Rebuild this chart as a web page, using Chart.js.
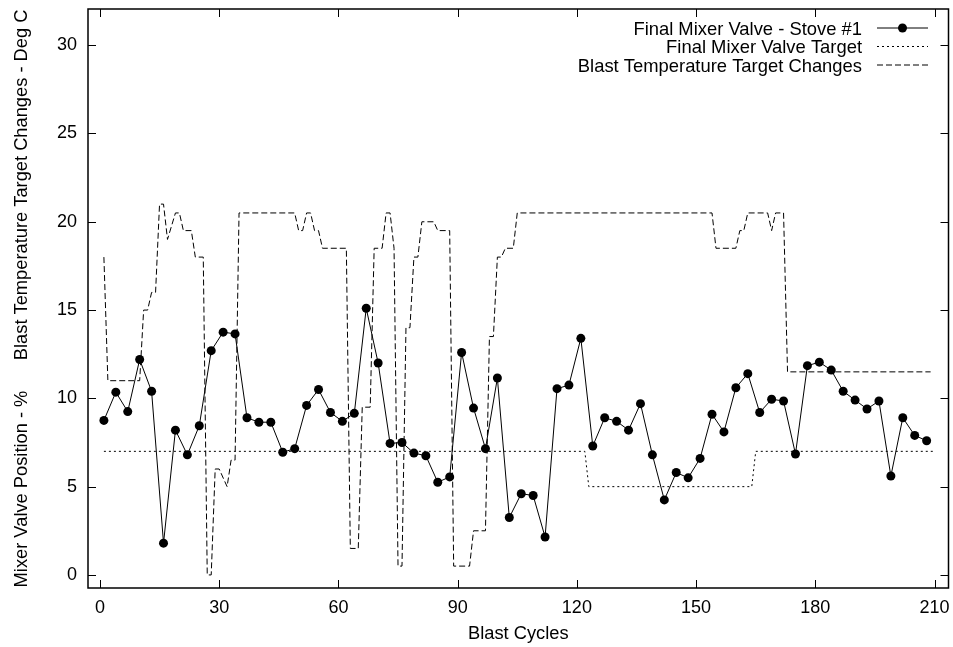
<!DOCTYPE html>
<html>
<head>
<meta charset="utf-8">
<script src="https://cdn.jsdelivr.net/npm/chart.js@4.4.1/dist/chart.umd.min.js"></script>
<style>
  html, body { margin: 0; padding: 0; background: #fff; }
  canvas { display: block; }
</style>
</head>
<body>
<canvas id="stoveChart" width="953" height="647"></canvas>
<script>
// Final mixer valve readings for stove #1 (one every third blast cycle)
const valveCycles = [1, 4, 7, 10, 13, 16, 19, 22, 25, 28, 31, 34, 37, 40, 43, 46, 49, 52, 55, 58,
  61, 64, 67, 70, 73, 76, 79, 82, 85, 88, 91, 94, 97, 100, 103, 106, 109, 112, 115, 118,
  121, 124, 127, 130, 133, 136, 139, 142, 145, 148, 151, 154, 157, 160, 163, 166, 169, 172, 175, 178,
  181, 184, 187, 190, 193, 196, 199, 202, 205, 208];
const valvePosition = [8.75, 10.35, 9.25, 12.2, 10.4, 1.8, 8.2, 6.8, 8.45, 12.7, 13.75, 13.65, 8.9, 8.65, 8.65, 6.95, 7.15, 9.6, 10.5, 9.2,
  8.7, 9.15, 15.1, 12.0, 7.45, 7.5, 6.9, 6.75, 5.25, 5.55, 12.6, 9.45, 7.15, 11.15, 3.25, 4.6, 4.5, 2.15, 10.55, 10.75,
  13.4, 7.3, 8.9, 8.7, 8.2, 9.7, 6.8, 4.25, 5.8, 5.5, 6.6, 9.1, 8.1, 10.6, 11.4, 9.2, 9.95, 9.85, 6.85, 11.85,
  12.05, 11.6, 10.4, 9.9, 9.4, 9.85, 5.6, 8.9, 7.9, 7.6];

// Final mixer valve target (steps)
const targetCycles = [1, 122, 123, 164, 165, 210];
const targetPosition = [7, 7, 5, 5, 7, 7];

// Blast temperature target changes (Deg C)
const tempCycles = [1, 2, 10, 11, 12, 13, 14, 15, 16, 17, 19, 20, 21, 23, 24, 26, 27, 28, 29, 30,
  32, 33, 34, 35, 49, 50, 51, 52, 53, 54, 55, 56, 62, 63, 65, 66, 68, 69, 71, 72,
  73, 74, 75, 76, 77, 78, 79, 80, 81, 84, 85, 88, 89, 93, 94, 97, 98, 99, 100, 101,
  102, 104, 105, 154, 155, 160, 161, 162, 163, 168, 169, 170, 172, 173, 209];
const tempChange = [18, 11, 11, 15, 15, 16, 16, 21, 21, 19, 20.5, 20.5, 19.5, 19.5, 18, 18, 0, 0, 6, 6,
  5, 6.5, 6.5, 20.5, 20.5, 19.5, 19.5, 20.5, 20.5, 19.5, 19.5, 18.5, 18.5, 1.5, 1.5, 9.5, 9.5, 18.5, 18.5, 20.5,
  20.5, 18.5, 0.5, 0.5, 14, 14, 18, 18, 20, 20, 19.5, 19.5, 0.5, 0.5, 2.5, 2.5, 13.5, 13.5, 18, 18,
  18.5, 18.5, 20.5, 20.5, 18.5, 18.5, 19.5, 19.5, 20.5, 20.5, 19.5, 20.5, 20.5, 11.5, 11.5];

const toPoints = (xs, ys) => xs.map((x, i) => ({ x: x, y: ys[i] }));

Chart.defaults.font.family = '"Liberation Sans", Arial, Helvetica, sans-serif';
Chart.defaults.font.size = 18;
Chart.defaults.color = '#000';

// gnuplot style frame, inward ticks on all sides, key at top right
const frameAndKey = {
  id: 'frameAndKey',
  afterDraw(chart) {
    const { ctx, chartArea: a, scales: { x, y } } = chart;
    ctx.save();
    ctx.strokeStyle = '#000';
    ctx.lineWidth = 1;
    ctx.setLineDash([]);
    ctx.beginPath();
    x.ticks.forEach(t => {
      const px = Math.round(x.getPixelForValue(t.value)) + 0.5;
      ctx.moveTo(px, a.bottom); ctx.lineTo(px, a.bottom - 8);
      ctx.moveTo(px, a.top); ctx.lineTo(px, a.top + 8);
    });
    y.ticks.forEach(t => {
      const py = Math.round(y.getPixelForValue(t.value)) + 0.5;
      ctx.moveTo(a.left, py); ctx.lineTo(a.left + 8, py);
      ctx.moveTo(a.right, py); ctx.lineTo(a.right - 8, py);
    });
    ctx.stroke();
    ctx.lineWidth = 1.5;
    ctx.strokeRect(a.left, a.top, a.right - a.left, a.bottom - a.top);

    // key
    ctx.font = '18.4px "Liberation Sans", Arial, sans-serif';
    ctx.textAlign = 'right';
    ctx.textBaseline = 'alphabetic';
    chart.data.datasets.forEach((ds, i) => {
      const base = 34.5 + i * 18.5;
      const mid = base - 6.5;
      ctx.fillStyle = '#000';
      ctx.fillText(ds.label, 862, base);
      ctx.strokeStyle = ds.borderColor;
      ctx.lineWidth = ds.borderWidth;
      ctx.setLineDash(ds.borderDash || []);
      ctx.beginPath();
      ctx.moveTo(877, mid);
      ctx.lineTo(928, mid);
      ctx.stroke();
      if (ds.pointRadius > 0) {
        ctx.setLineDash([]);
        ctx.fillStyle = ds.pointBackgroundColor;
        ctx.beginPath();
        ctx.arc(902.5, mid, ds.pointRadius, 0, Math.PI * 2);
        ctx.fill();
      }
    });
    ctx.restore();
  }
};

new Chart(document.getElementById('stoveChart'), {
  type: 'line',
  data: {
    datasets: [
      {
        label: 'Final Mixer Valve - Stove #1',
        data: toPoints(valveCycles, valvePosition),
        borderColor: '#000',
        borderWidth: 1,
        pointRadius: 4.5,
        pointBackgroundColor: '#000',
        pointBorderWidth: 0
      },
      {
        label: 'Final Mixer Valve Target',
        data: toPoints(targetCycles, targetPosition),
        borderColor: '#000',
        borderWidth: 1,
        borderDash: [2, 3],
        pointRadius: 0
      },
      {
        label: 'Blast Temperature Target Changes',
        data: toPoints(tempCycles, tempChange),
        borderColor: '#000',
        borderWidth: 1,
        borderDash: [6, 3],
        pointRadius: 0
      }
    ]
  },
  options: {
    responsive: false,
    animation: false,
    devicePixelRatio: 1,
    layout: { padding: { top: 9, right: 3, left: 0, bottom: 0 } },
    elements: { line: { tension: 0 } },
    plugins: {
      legend: { display: false },
      tooltip: { enabled: false }
    },
    scales: {
      x: {
        type: 'linear',
        min: -3,
        max: 213.5,
        grid: { display: false, drawTicks: false },
        border: { display: false },
        ticks: { stepSize: 30, includeBounds: false, padding: 9 },
        title: { display: true, text: 'Blast Cycles', font: { size: 18.3 }, padding: { top: 0, bottom: 2 } },
        afterFit(s) { s.height = 59; s.paddingLeft = 0; s.paddingRight = 0; }
      },
      y: {
        min: -0.74,
        max: 32.05,
        grid: { display: false, drawTicks: false },
        border: { display: false },
        ticks: { stepSize: 5, includeBounds: false, padding: 11 },
        title: {
          display: true,
          text: 'Mixer Valve Position - %      Blast Temperature Target Changes - Deg C',
          font: { size: 18.3 },
          padding: { top: 11, bottom: 0 }
        },
        afterFit(s) { s.width = 88; s.paddingTop = 0; s.paddingBottom = 0; }
      }
    }
  },
  plugins: [frameAndKey]
});
</script>
</body>
</html>
